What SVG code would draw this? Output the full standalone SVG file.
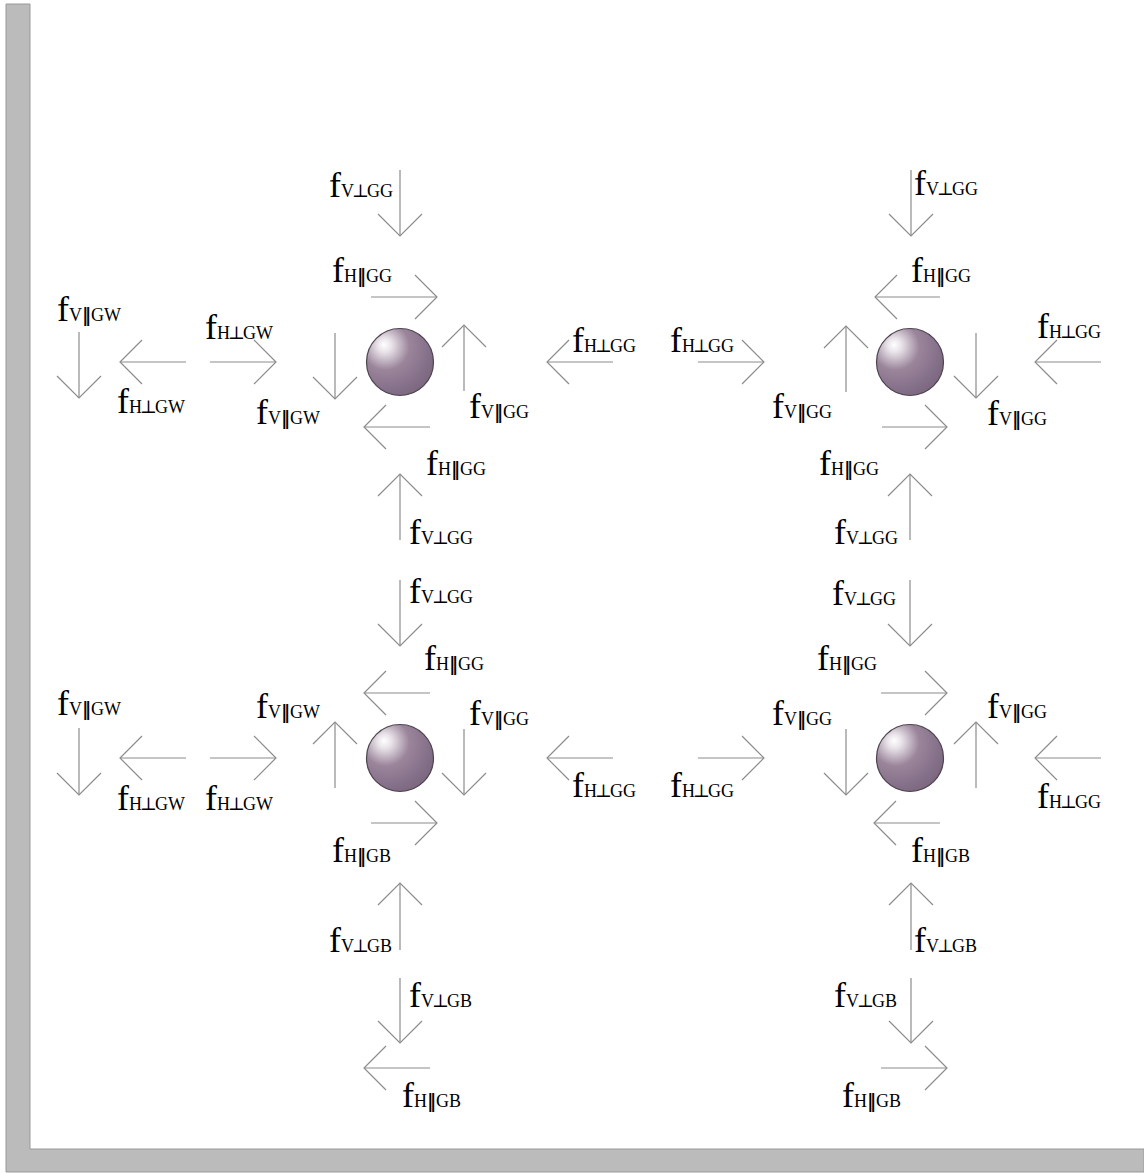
<svg xmlns="http://www.w3.org/2000/svg" width="1144" height="1173" viewBox="0 0 1144 1173">
<defs>
<radialGradient id="ball" cx="0.32" cy="0.3" r="0.78" fx="0.26" fy="0.24">
<stop offset="0" stop-color="#ffffff"/>
<stop offset="0.14" stop-color="#e8e2e8"/>
<stop offset="0.45" stop-color="#9b859b"/>
<stop offset="0.8" stop-color="#85708a"/>
<stop offset="1" stop-color="#7a667c"/>
</radialGradient>
<marker id="ah" markerUnits="userSpaceOnUse" viewBox="-24 -24 26 48" refX="0" refY="0" markerWidth="26" markerHeight="48" orient="auto" overflow="visible">
<path d="M-22,-22 L0,0 L-22,22" fill="none" stroke="#8c8c8c" stroke-width="1.2"/>
</marker>
</defs>
<style>
.frame{fill:#bbbbbb;stroke:#999999;stroke-width:1}
.ball{fill:url(#ball);stroke:#4e444f;stroke-width:1.2}
.arr{fill:none;stroke:#8c8c8c;stroke-width:1.2;marker-end:url(#ah)}
.lbl{font-family:"Liberation Serif","DejaVu Serif",serif;font-size:36px;fill:#000}
.sub{font-size:18px}
.sub .p{font-family:"DejaVu Serif",serif;font-weight:bold}
</style>
<rect width="1144" height="1173" fill="#ffffff"/>
<polygon class="frame" points="6,4 30,4 30,1149 1144,1149 1144,1172 6,1172"/>
<g id="sphere-tl"><circle class="ball" cx="400" cy="362" r="33.5"/></g>
<g id="sphere-tr"><circle class="ball" cx="910" cy="362" r="33.5"/></g>
<g id="sphere-bl"><circle class="ball" cx="400" cy="758" r="33.5"/></g>
<g id="sphere-br"><circle class="ball" cx="910" cy="758" r="33.5"/></g>
<g id="connectors">
<path class="arr" d="M400,170 L400,236"/>
<path class="arr" d="M371,297 L437,297"/>
<path class="arr" d="M464,391 L464,325"/>
<path class="arr" d="M335,333 L335,399"/>
<path class="arr" d="M430,427 L364,427"/>
<path class="arr" d="M400,540 L400,474"/>
<path class="arr" d="M210,362 L276,362"/>
<path class="arr" d="M186,362 L120,362"/>
<path class="arr" d="M79,332 L79,398"/>
<path class="arr" d="M613,362 L547,362"/>
<path class="arr" d="M698,362 L764,362"/>
<path class="arr" d="M911,170 L911,236"/>
<path class="arr" d="M940,297 L875,297"/>
<path class="arr" d="M846,392 L846,326"/>
<path class="arr" d="M976,333 L976,398"/>
<path class="arr" d="M1101,362 L1035,362"/>
<path class="arr" d="M882,427 L947,427"/>
<path class="arr" d="M910,540 L910,474"/>
<path class="arr" d="M400,580 L400,646"/>
<path class="arr" d="M430,693 L364,693"/>
<path class="arr" d="M335,788 L335,722"/>
<path class="arr" d="M464,729 L464,795"/>
<path class="arr" d="M371,823 L437,823"/>
<path class="arr" d="M400,950 L400,883"/>
<path class="arr" d="M400,978 L400,1043"/>
<path class="arr" d="M430,1068 L364,1068"/>
<path class="arr" d="M79,728 L79,795"/>
<path class="arr" d="M186,758 L120,758"/>
<path class="arr" d="M210,758 L276,758"/>
<path class="arr" d="M613,758 L547,758"/>
<path class="arr" d="M698,758 L764,758"/>
<path class="arr" d="M910,580 L910,646"/>
<path class="arr" d="M881,693 L947,693"/>
<path class="arr" d="M846,729 L846,795"/>
<path class="arr" d="M976,788 L976,722"/>
<path class="arr" d="M1101,758 L1035,758"/>
<path class="arr" d="M940,823 L874,823"/>
<path class="arr" d="M911,950 L911,883"/>
<path class="arr" d="M911,978 L911,1043"/>
<path class="arr" d="M881,1068 L947,1068"/>
</g>
<g id="labels">
<text class="lbl" x="329" y="197">f<tspan class="sub">V<tspan dx="-2">⊥</tspan><tspan dx="-2">GG</tspan></tspan></text>
<text class="lbl" x="332" y="282">f<tspan class="sub">H<tspan class="p">‖</tspan>GG</tspan></text>
<text class="lbl" x="469" y="418">f<tspan class="sub">V<tspan class="p">‖</tspan>GG</tspan></text>
<text class="lbl" x="256" y="424">f<tspan class="sub">V<tspan class="p">‖</tspan>GW</tspan></text>
<text class="lbl" x="426" y="475">f<tspan class="sub">H<tspan class="p">‖</tspan>GG</tspan></text>
<text class="lbl" x="409" y="544">f<tspan class="sub">V<tspan dx="-2">⊥</tspan><tspan dx="-2">GG</tspan></tspan></text>
<text class="lbl" x="205" y="339">f<tspan class="sub">H<tspan dx="-2">⊥</tspan><tspan dx="-2">GW</tspan></tspan></text>
<text class="lbl" x="117" y="413">f<tspan class="sub">H<tspan dx="-2">⊥</tspan><tspan dx="-2">GW</tspan></tspan></text>
<text class="lbl" x="57" y="321">f<tspan class="sub">V<tspan class="p">‖</tspan>GW</tspan></text>
<text class="lbl" x="572" y="352">f<tspan class="sub">H<tspan dx="-2">⊥</tspan><tspan dx="-2">GG</tspan></tspan></text>
<text class="lbl" x="670" y="352">f<tspan class="sub">H<tspan dx="-2">⊥</tspan><tspan dx="-2">GG</tspan></tspan></text>
<text class="lbl" x="914" y="195">f<tspan class="sub">V<tspan dx="-2">⊥</tspan><tspan dx="-2">GG</tspan></tspan></text>
<text class="lbl" x="911" y="282">f<tspan class="sub">H<tspan class="p">‖</tspan>GG</tspan></text>
<text class="lbl" x="772" y="418">f<tspan class="sub">V<tspan class="p">‖</tspan>GG</tspan></text>
<text class="lbl" x="987" y="425">f<tspan class="sub">V<tspan class="p">‖</tspan>GG</tspan></text>
<text class="lbl" x="1037" y="338">f<tspan class="sub">H<tspan dx="-2">⊥</tspan><tspan dx="-2">GG</tspan></tspan></text>
<text class="lbl" x="819" y="475">f<tspan class="sub">H<tspan class="p">‖</tspan>GG</tspan></text>
<text class="lbl" x="834" y="544">f<tspan class="sub">V<tspan dx="-2">⊥</tspan><tspan dx="-2">GG</tspan></tspan></text>
<text class="lbl" x="409" y="603">f<tspan class="sub">V<tspan dx="-2">⊥</tspan><tspan dx="-2">GG</tspan></tspan></text>
<text class="lbl" x="424" y="670">f<tspan class="sub">H<tspan class="p">‖</tspan>GG</tspan></text>
<text class="lbl" x="256" y="718">f<tspan class="sub">V<tspan class="p">‖</tspan>GW</tspan></text>
<text class="lbl" x="469" y="725">f<tspan class="sub">V<tspan class="p">‖</tspan>GG</tspan></text>
<text class="lbl" x="332" y="862">f<tspan class="sub">H<tspan class="p">‖</tspan>GB</tspan></text>
<text class="lbl" x="329" y="952">f<tspan class="sub">V<tspan dx="-2">⊥</tspan><tspan dx="-2">GB</tspan></tspan></text>
<text class="lbl" x="409" y="1007">f<tspan class="sub">V<tspan dx="-2">⊥</tspan><tspan dx="-2">GB</tspan></tspan></text>
<text class="lbl" x="402" y="1107">f<tspan class="sub">H<tspan class="p">‖</tspan>GB</tspan></text>
<text class="lbl" x="57" y="715">f<tspan class="sub">V<tspan class="p">‖</tspan>GW</tspan></text>
<text class="lbl" x="117" y="810">f<tspan class="sub">H<tspan dx="-2">⊥</tspan><tspan dx="-2">GW</tspan></tspan></text>
<text class="lbl" x="205" y="810">f<tspan class="sub">H<tspan dx="-2">⊥</tspan><tspan dx="-2">GW</tspan></tspan></text>
<text class="lbl" x="572" y="797">f<tspan class="sub">H<tspan dx="-2">⊥</tspan><tspan dx="-2">GG</tspan></tspan></text>
<text class="lbl" x="670" y="797">f<tspan class="sub">H<tspan dx="-2">⊥</tspan><tspan dx="-2">GG</tspan></tspan></text>
<text class="lbl" x="832" y="605">f<tspan class="sub">V<tspan dx="-2">⊥</tspan><tspan dx="-2">GG</tspan></tspan></text>
<text class="lbl" x="817" y="670">f<tspan class="sub">H<tspan class="p">‖</tspan>GG</tspan></text>
<text class="lbl" x="772" y="725">f<tspan class="sub">V<tspan class="p">‖</tspan>GG</tspan></text>
<text class="lbl" x="987" y="718">f<tspan class="sub">V<tspan class="p">‖</tspan>GG</tspan></text>
<text class="lbl" x="1037" y="808">f<tspan class="sub">H<tspan dx="-2">⊥</tspan><tspan dx="-2">GG</tspan></tspan></text>
<text class="lbl" x="911" y="862">f<tspan class="sub">H<tspan class="p">‖</tspan>GB</tspan></text>
<text class="lbl" x="914" y="952">f<tspan class="sub">V<tspan dx="-2">⊥</tspan><tspan dx="-2">GB</tspan></tspan></text>
<text class="lbl" x="834" y="1007">f<tspan class="sub">V<tspan dx="-2">⊥</tspan><tspan dx="-2">GB</tspan></tspan></text>
<text class="lbl" x="842" y="1107">f<tspan class="sub">H<tspan class="p">‖</tspan>GB</tspan></text>
</g>
</svg>
